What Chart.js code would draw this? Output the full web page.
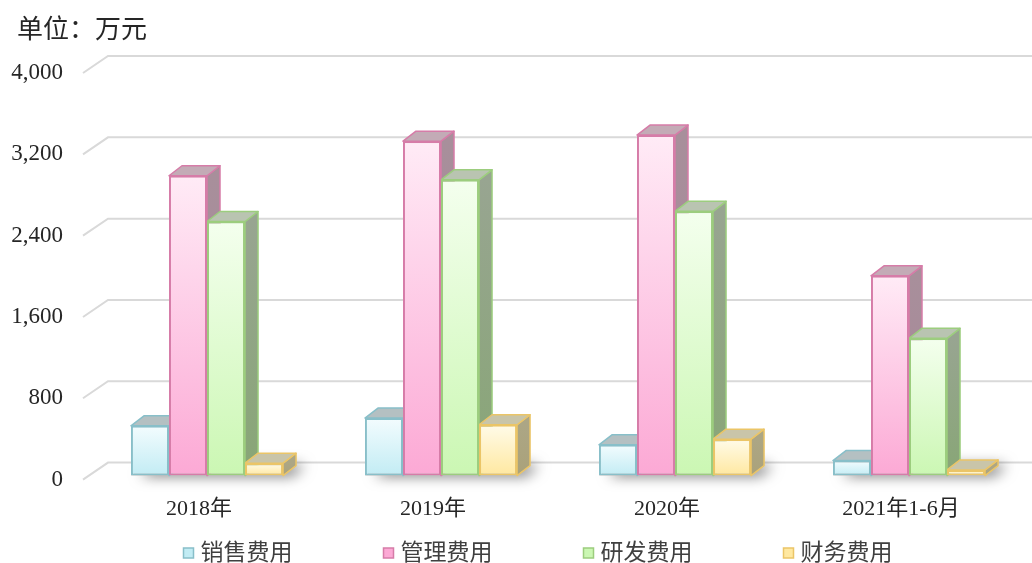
<!DOCTYPE html>
<html lang="zh-CN">
<head>
<meta charset="utf-8">
<title>期间费用</title>
<script src="https://cdn.jsdelivr.net/npm/chart.js@4.4.1/dist/chart.umd.min.js"></script>
<style>
  html, body { margin: 0; padding: 0; background: #fff; }
  #wrap { position: relative; width: 1032px; height: 563px; }
</style>
</head>
<body>
<div id="wrap"><canvas id="costChart"></canvas></div>
<script>
// 期间费用，单位：万元
const periods = ['2018年', '2019年', '2020年', '2021年1-6月'];
const seriesNames = ['销售费用', '管理费用', '研发费用', '财务费用'];
const salesCost = [490, 566, 303, 148];
const adminCost = [2950, 3290, 3350, 1965];
const rdCost = [2500, 2910, 2600, 1350];
const financeCost = [122, 500, 358, 56];
const yTicks = [0, 800, 1600, 2400, 3200, 4000];
const unitText = '单位：万元';

// 正面渐变（上/下）、边框、顶面、侧面（上/下）
const palette = [
  { top: '#f3fcfe', bottom: '#c2ecf4', border: '#88bfc9', cap: '#b4c0c2', side: '#a4b4b7', sideLow: '#98b4b8' },
  { top: '#ffebf6', bottom: '#fca9d5', border: '#d67ca8', cap: '#c3abb6', side: '#a88f9b', sideLow: '#a88698' },
  { top: '#f4ffee', bottom: '#cbf7b3', border: '#9ccd7e', cap: '#b9c4b1', side: '#98a591', sideLow: '#88a676' },
  { top: '#fffbe9', bottom: '#ffe8a0', border: '#ebc567', cap: '#c9c5a9', side: '#aca685', sideLow: '#aaa27a' }
];

const FONT = "'Liberation Serif', 'Noto Sans CJK SC', serif";
const TEXT = '#262626';
const DEPTH = { x: 13, y: -10 };   // 柱体厚度
const WALL = { x: 18, y: -13 };    // 背景墙相对柱体正面的偏移
const FLOOR = { x: -7, y: 4 };     // 前沿相对柱体正面的偏移

function frontFill(ctx) {
  const c = palette[ctx.datasetIndex];
  const chart = ctx.chart;
  const y = chart.scales.y;
  if (ctx.type !== 'data' || !chart.chartArea || !y) return c.bottom;
  const top = y.getPixelForValue(ctx.raw);
  const base = y.getPixelForValue(0);
  if (!(base > top)) return c.bottom;
  const g = chart.ctx.createLinearGradient(0, top, 0, base);
  g.addColorStop(0, c.top);
  g.addColorStop(1, c.bottom);
  return g;
}

function poly(ctx, pts, fill, stroke) {
  ctx.beginPath();
  ctx.moveTo(pts[0][0], pts[0][1]);
  for (let i = 1; i < pts.length; i++) ctx.lineTo(pts[i][0], pts[i][1]);
  ctx.closePath();
  ctx.fillStyle = fill;
  ctx.fill();
  if (stroke) {
    ctx.strokeStyle = stroke;
    ctx.lineWidth = 1.5;
    ctx.lineJoin = 'round';
    ctx.stroke();
  }
}

const bars3d = {
  id: 'bars3d',
  beforeDatasetsDraw(chart) {
    const { ctx, chartArea } = chart;
    const y = chart.scales.y;
    ctx.save();

    // 背景墙网格线
    ctx.strokeStyle = '#d9d9d9';
    ctx.lineWidth = 2;
    yTicks.forEach(v => {
      const py = y.getPixelForValue(v);
      ctx.beginPath();
      ctx.moveTo(chartArea.left + FLOOR.x, py + FLOOR.y);
      ctx.lineTo(chartArea.left + WALL.x, py + WALL.y);
      ctx.lineTo(chart.width, py + WALL.y);
      ctx.stroke();
    });

    // 地面阴影
    const firstBars = chart.getDatasetMeta(0).data;
    const lastBars = chart.getDatasetMeta(chart.data.datasets.length - 1).data;
    firstBars.forEach((b, i) => {
      const l = b.x - b.width / 2;
      const r = lastBars[i].x + lastBars[i].width / 2;
      const base = b.base;
      ctx.save();
      ctx.shadowColor = 'rgba(0,0,0,0.6)';
      ctx.shadowBlur = 14;
      ctx.shadowOffsetX = 9;
      ctx.shadowOffsetY = 0;
      poly(ctx, [[l, base], [r, base], [r + DEPTH.x, base + DEPTH.y], [l + DEPTH.x, base + DEPTH.y]], '#bdbdbd');
      ctx.restore();
    });

    // 侧面与顶面，正面由柱状图本身绘制
    chart.data.datasets.forEach((ds, di) => {
      const c = palette[di];
      chart.getDatasetMeta(di).data.forEach(bar => {
        const l = bar.x - bar.width / 2;
        const r = bar.x + bar.width / 2;
        const t = bar.y;
        const b = bar.base;
        const sg = ctx.createLinearGradient(0, t, 0, b);
        sg.addColorStop(0, c.side);
        sg.addColorStop(1, c.sideLow);
        poly(ctx, [[r, t], [r + DEPTH.x, t + DEPTH.y], [r + DEPTH.x, b + DEPTH.y], [r, b]], sg, c.border);
        poly(ctx, [[l, t], [l + DEPTH.x, t + DEPTH.y], [r + DEPTH.x, t + DEPTH.y], [r, t]], c.cap, c.border);
      });
    });
    ctx.restore();
  },

  // 单位说明与图例
  afterDraw(chart) {
    const { ctx } = chart;
    ctx.save();
    ctx.textBaseline = 'middle';
    ctx.fillStyle = TEXT;
    ctx.font = `26px ${FONT}`;
    ctx.fillText(unitText, 17, 31);

    const box = 10, gap = 200, cy = 553;
    ctx.font = `23px ${FONT}`;
    const names = chart.data.datasets.map(d => d.label);
    const rowWidth = gap * (names.length - 1) + box + 7 + ctx.measureText(names[names.length - 1]).width;
    let x = chart.width / 2 + 22 - rowWidth / 2;
    names.forEach((name, i) => {
      const c = palette[i];
      ctx.fillStyle = c.bottom;
      ctx.strokeStyle = c.border;
      ctx.lineWidth = 1.5;
      ctx.fillRect(x, cy - box / 2, box, box);
      ctx.strokeRect(x, cy - box / 2, box, box);
      ctx.fillStyle = '#404040';
      ctx.fillText(name, x + box + 7, cy + 1);
      x += gap;
    });
    ctx.restore();
  }
};

const seriesValues = [salesCost, adminCost, rdCost, financeCost];

new Chart(document.getElementById('costChart'), {
  type: 'bar',
  data: {
    labels: periods,
    datasets: seriesNames.map((name, i) => ({
      label: name,
      data: seriesValues[i],
      backgroundColor: frontFill,
      borderColor: palette[i].border,
      borderWidth: 2,
      borderSkipped: false,
      barPercentage: 1,
      categoryPercentage: 0.65
    }))
  },
  options: {
    responsive: true,
    maintainAspectRatio: false,
    animation: false,
    layout: { padding: { left: 0, right: 6, top: 69, bottom: 21 } },
    plugins: {
      legend: { display: false },
      tooltip: { enabled: false },
      title: { display: false }
    },
    scales: {
      x: {
        grid: { display: false, drawTicks: false },
        border: { display: false },
        ticks: {
          color: TEXT,
          font: { family: FONT, size: 22 },
          padding: 20,
          labelOffset: -8,
          maxRotation: 0
        }
      },
      y: {
        min: 0,
        max: 4000,
        grid: { display: false, drawTicks: false },
        border: { display: false },
        afterFit(scale) { scale.width = 90; },
        afterBuildTicks(scale) { scale.ticks = yTicks.map(v => ({ value: v })); },
        ticks: {
          color: TEXT,
          font: { family: FONT, size: 23 },
          padding: 27,
          labelOffset: 4,
          callback: v => Number(v).toLocaleString('en-US')
        }
      }
    }
  },
  plugins: [bars3d]
});
</script>
</body>
</html>
